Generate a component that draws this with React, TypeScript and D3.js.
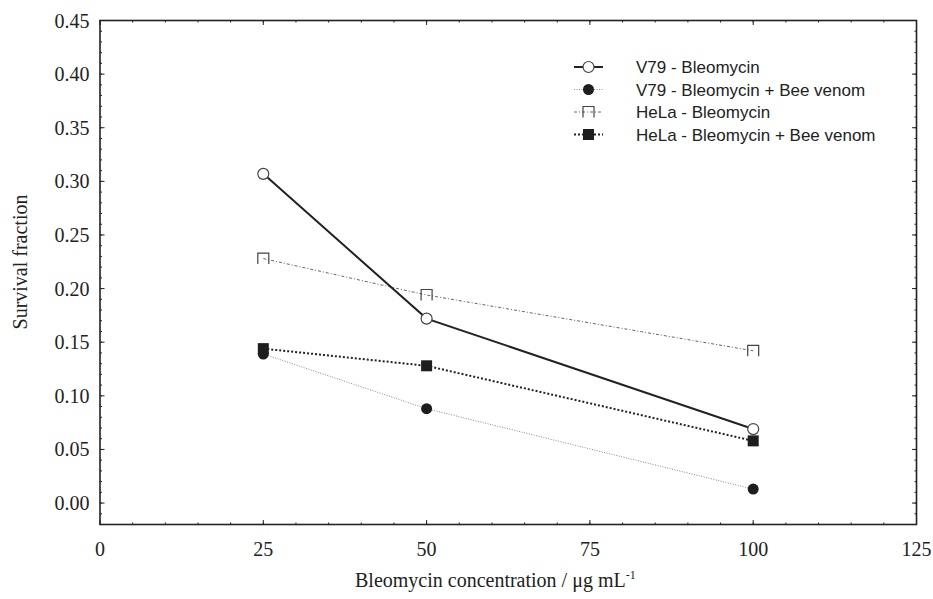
import * as d3 from 'd3'
import { FC } from 'react'

const WIDTH = 933
const HEIGHT = 599
const PLOT = { left: 100, right: 916.5, top: 20.5, bottom: 524.5 }

const CONCENTRATIONS = [25, 50, 100]
const V79_BLEO = [0.307, 0.172, 0.069]
const V79_BLEO_BV = [0.139, 0.088, 0.013]
const HELA_BLEO = [0.228, 0.194, 0.142]
const HELA_BLEO_BV = [0.144, 0.128, 0.058]

const X_TICKS = [0, 25, 50, 75, 100, 125]
const Y_TICKS = [0, 0.05, 0.1, 0.15, 0.2, 0.25, 0.3, 0.35, 0.4, 0.45]

type Marker = 'openCircle' | 'filledCircle' | 'openSquare' | 'filledSquare'

type Series = {
  label: string
  values: number[]
  marker: Marker
  stroke: string
  strokeWidth: number
  dash?: string
}

const SERIES: Series[] = [
  { label: 'V79 - Bleomycin', values: V79_BLEO, marker: 'openCircle', stroke: '#222', strokeWidth: 2 },
  { label: 'V79 - Bleomycin + Bee venom', values: V79_BLEO_BV, marker: 'filledCircle', stroke: '#8a8a8a', strokeWidth: 1, dash: '1,1.5' },
  { label: 'HeLa - Bleomycin', values: HELA_BLEO, marker: 'openSquare', stroke: '#666', strokeWidth: 1, dash: '3,2,1,2' },
  { label: 'HeLa - Bleomycin + Bee venom', values: HELA_BLEO_BV, marker: 'filledSquare', stroke: '#222', strokeWidth: 2, dash: '2,2' },
]

const drawOrder = [2, 1, 3, 0]

const SERIF = "'Liberation Serif', 'Times New Roman', serif"
const SANS = "'Liberation Sans', Arial, sans-serif"

const MarkerShape: FC<{ kind: Marker; x: number; y: number }> = ({ kind, x, y }) => {
  const r = 5.5
  if (kind === 'openCircle')
    return <circle cx={x} cy={y} r={r} fill='#fff' stroke='#444' strokeWidth={1.2} />
  if (kind === 'filledCircle')
    return <circle cx={x} cy={y} r={r} fill='#1e1e1e' />
  if (kind === 'filledSquare')
    return <rect x={x - r} y={y - r} width={2 * r} height={2 * r} fill='#1e1e1e' />
  return (
    <path
      d={`M${x - r},${y + r}V${y - r}H${x + r}V${y + r}`}
      fill='none'
      stroke='#444'
      strokeWidth={1.2}
    />
  )
}

const App: FC = () => {
  const xScale = d3.scaleLinear().domain([0, 125]).range([PLOT.left, PLOT.right])
  const yScale = d3.scaleLinear().domain([-0.02, 0.45]).range([PLOT.bottom, PLOT.top])

  const xMinor = xScale.ticks(25)
  const yMinor = d3.range(-2, 46).map((d) => d / 100)

  const line = d3
    .line<[number, number]>()
    .x((d) => xScale(d[0]))
    .y((d) => yScale(d[1]))

  const legendX = 574
  const legendY = [67, 89.5, 112, 134.5]

  return (
    <svg
      width={WIDTH}
      height={HEIGHT}
      style={{ position: 'absolute', left: 0, top: 0, background: '#fff' }}
    >
      {/* frame */}
      <rect
        x={PLOT.left}
        y={PLOT.top}
        width={PLOT.right - PLOT.left}
        height={PLOT.bottom - PLOT.top}
        fill='none'
        stroke='#222'
        strokeWidth={1.6}
      />

      {/* minor ticks */}
      {xMinor.map((t) => (
        <g key={'xm' + t} stroke='#222' strokeWidth={1}>
          <line x1={xScale(t)} x2={xScale(t)} y1={PLOT.bottom} y2={PLOT.bottom - 2} />
          <line x1={xScale(t)} x2={xScale(t)} y1={PLOT.top} y2={PLOT.top + 2} />
        </g>
      ))}
      {yMinor.map((t) => (
        <g key={'ym' + t} stroke='#222' strokeWidth={1}>
          <line x1={PLOT.left} x2={PLOT.left + 2} y1={yScale(t)} y2={yScale(t)} />
          <line x1={PLOT.right} x2={PLOT.right - 2} y1={yScale(t)} y2={yScale(t)} />
        </g>
      ))}

      {/* major ticks + labels */}
      {X_TICKS.map((t) => (
        <g key={'x' + t}>
          <line x1={xScale(t)} x2={xScale(t)} y1={PLOT.bottom} y2={PLOT.bottom - 4.5} stroke='#222' />
          <line x1={xScale(t)} x2={xScale(t)} y1={PLOT.top} y2={PLOT.top + 4.5} stroke='#222' />
          <text x={xScale(t)} y={555.5} textAnchor='middle' fontFamily={SERIF} fontSize={20} fill='#222'>
            {t}
          </text>
        </g>
      ))}
      {Y_TICKS.map((t) => (
        <g key={'y' + t}>
          <line x1={PLOT.left} x2={PLOT.left + 4.5} y1={yScale(t)} y2={yScale(t)} stroke='#222' />
          <line x1={PLOT.right} x2={PLOT.right - 4.5} y1={yScale(t)} y2={yScale(t)} stroke='#222' />
          <text x={89.5} y={yScale(t) + 7} textAnchor='end' fontFamily={SERIF} fontSize={20} fill='#222'>
            {d3.format('.2f')(t)}
          </text>
        </g>
      ))}

      {/* axis titles */}
      <text
        transform={`translate(27,262) rotate(-90)`}
        textAnchor='middle'
        fontFamily={SERIF}
        fontSize={20}
        fill='#222'
      >
        Survival fraction
      </text>
      <text x={355} y={586.5} fontFamily={SERIF} fontSize={20} fill='#222'>
        Bleomycin concentration / μg mL
        <tspan dy={-8} fontSize={12}>-1</tspan>
      </text>

      {/* series lines */}
      {drawOrder.map((i) => {
        const s = SERIES[i]
        const pts = CONCENTRATIONS.map((c, j) => [c, s.values[j]] as [number, number])
        return (
          <path
            key={'l' + i}
            d={line(pts) as string}
            fill='none'
            stroke={s.stroke}
            strokeWidth={s.strokeWidth}
            strokeDasharray={s.dash}
          />
        )
      })}

      {/* series markers */}
      {drawOrder.map((i) => {
        const s = SERIES[i]
        return (
          <g key={'m' + i}>
            {CONCENTRATIONS.map((c, j) => (
              <MarkerShape key={j} kind={s.marker} x={xScale(c)} y={yScale(s.values[j])} />
            ))}
          </g>
        )
      })}

      {/* legend */}
      {SERIES.map((s, i) => (
        <g key={'lg' + i}>
          <line
            x1={legendX}
            x2={legendX + 29}
            y1={legendY[i]}
            y2={legendY[i]}
            stroke={s.stroke}
            strokeWidth={s.strokeWidth}
            strokeDasharray={s.dash}
          />
          <MarkerShape kind={s.marker} x={legendX + 14.5} y={legendY[i]} />
          <text x={636} y={legendY[i] + 6} fontFamily={SANS} fontSize={17} fill='#222'>
            {s.label}
          </text>
        </g>
      ))}
    </svg>
  )
}

export default App
